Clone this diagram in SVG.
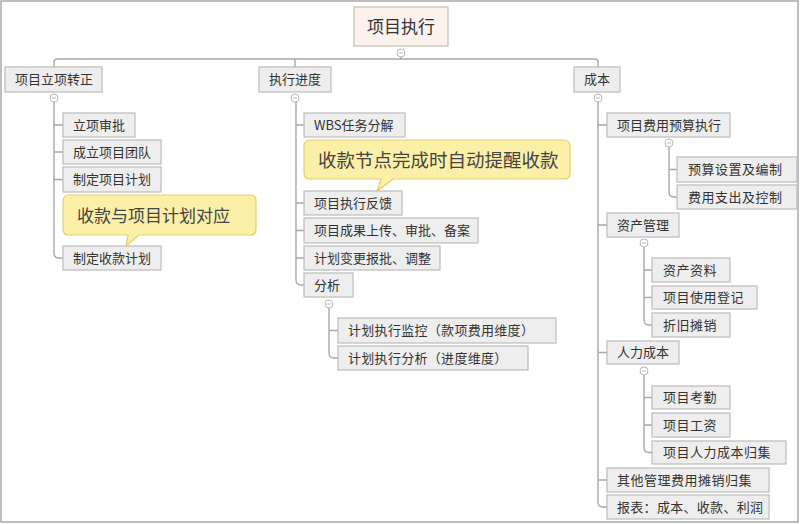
<svg xmlns="http://www.w3.org/2000/svg" width="800" height="524" viewBox="0 0 800 524">
<style>
.n rect{fill:#eeeeee;stroke:#bcbcbc;stroke-width:1.2}
.n text{font-family:"Noto Sans CJK SC","Liberation Sans",sans-serif;font-size:13px;fill:#333}
.c path,.c line{fill:none;stroke:#a8a8a8;stroke-width:1.4}
.t circle{fill:#fff;stroke:#b8b8b8;stroke-width:1}
.t line{stroke:#b8b8b8;stroke-width:1}
.co path{fill:#fcf0a8;stroke:#e3cd6e;stroke-width:1.2}
.co text{font-family:"Noto Sans CJK SC","Liberation Sans",sans-serif;fill:#444}
</style>
<rect x="1" y="1" width="797" height="521" fill="#fff" stroke="#a9a9a9" stroke-width="1.5"/>
<g class="c" id="connectors">
<path d="M401 57 V59 M54 67 V62 Q54 59 57 59 H595 Q598 59 598 62 V67 M295 59 V67"/>
<path d="M54 102 V253 Q54 258 59 258 H63 M54 125 H63 M54 152 H63 M54 179.5 H63"/>
<path d="M296 102 V280 Q296 285 301 285 H304 M296 125 H304 M296 203 H304 M296 230.5 H304 M296 258 H304"/>
<path d="M329 308 V353 Q329 358 334 358 H338 M329 330.5 H338"/>
<path d="M598 102 V502 Q598 507 603 507 H607 M598 125 H607 M598 225 H607 M598 352.5 H607 M598 480 H607"/>
<path d="M669 147 V192 Q669 197 674 197 H677 M669 169.5 H677"/>
<path d="M644 247 V320 Q644 325 649 325 H652 M644 270 H652 M644 297.5 H652"/>
<path d="M644 375 V447.5 Q644 452.5 649 452.5 H652 M644 397.5 H652 M644 425 H652"/>
</g>
<g id="root">
<rect x="354" y="7" width="94" height="39" fill="#fcf2ec" stroke="#c9bbb3" stroke-width="1.2"/>
<text x="401" y="33" text-anchor="middle" font-family="Noto Sans CJK SC, Liberation Sans, sans-serif" font-size="17" fill="#333">项目执行</text>
</g>
<g class="t" id="toggles">
<g><circle cx="401" cy="53" r="4"/><line x1="399" y1="53" x2="403" y2="53"/></g>
<g><circle cx="54" cy="98" r="4"/><line x1="52" y1="98" x2="56" y2="98"/></g>
<g><circle cx="295" cy="98" r="4"/><line x1="293" y1="98" x2="297" y2="98"/></g>
<g><circle cx="598" cy="98" r="4"/><line x1="596" y1="98" x2="600" y2="98"/></g>
<g><circle cx="329" cy="304" r="4"/><line x1="327" y1="304" x2="331" y2="304"/></g>
<g><circle cx="669" cy="143" r="4"/><line x1="667" y1="143" x2="671" y2="143"/></g>
<g><circle cx="644" cy="243" r="4"/><line x1="642" y1="243" x2="646" y2="243"/></g>
<g><circle cx="644" cy="371" r="4"/><line x1="642" y1="371" x2="646" y2="371"/></g>
</g>
<g class="n" id="n-lixiang"><rect x="5" y="67" width="97" height="25"/><text x="15" y="84">项目立项转正</text></g>
<g class="n" id="n-jindu"><rect x="259" y="67" width="72" height="25"/><text x="269" y="84">执行进度</text></g>
<g class="n" id="n-chengben"><rect x="574" y="67" width="46" height="25"/><text x="584" y="84">成本</text></g>

<g class="n" id="n-l1"><rect x="63" y="113" width="72" height="24"/><text x="73" y="130">立项审批</text></g>
<g class="n" id="n-l2"><rect x="63" y="140" width="98" height="24"/><text x="73" y="157">成立项目团队</text></g>
<g class="n" id="n-l3"><rect x="63" y="167" width="98" height="25"/><text x="73" y="184">制定项目计划</text></g>
<g class="n" id="n-l4"><rect x="63" y="246" width="98" height="24"/><text x="73" y="263">制定收款计划</text></g>

<g class="n" id="n-m1"><rect x="304" y="113" width="101" height="24"/><text x="314" y="130">WBS任务分解</text></g>
<g class="n" id="n-m2"><rect x="304" y="191" width="98" height="24"/><text x="314" y="208">项目执行反馈</text></g>
<g class="n" id="n-m3"><rect x="304" y="218" width="174" height="25"/><text x="314" y="235">项目成果上传、审批、备案</text></g>
<g class="n" id="n-m4"><rect x="304" y="246" width="136" height="24"/><text x="314" y="263">计划变更报批、调整</text></g>
<g class="n" id="n-m5"><rect x="304" y="273" width="49" height="24"/><text x="314" y="290">分析</text></g>
<g class="n" id="n-m51"><rect x="338" y="318" width="218" height="25"/><text x="348" y="335" letter-spacing="0.3">计划执行监控（款项费用维度）</text></g>
<g class="n" id="n-m52"><rect x="338" y="346" width="190" height="24"/><text x="348" y="363" letter-spacing="0.3">计划执行分析（进度维度）</text></g>

<g class="n" id="n-r1"><rect x="607" y="113" width="123" height="24"/><text x="617" y="130">项目费用预算执行</text></g>
<g class="n" id="n-r11"><rect x="677" y="157" width="120" height="25"/><text x="688" y="174" letter-spacing="0.5">预算设置及编制</text></g>
<g class="n" id="n-r12"><rect x="677" y="185" width="120" height="24"/><text x="688" y="202" letter-spacing="0.5">费用支出及控制</text></g>
<g class="n" id="n-r2"><rect x="607" y="213" width="72" height="24"/><text x="617" y="230">资产管理</text></g>
<g class="n" id="n-r21"><rect x="652" y="258" width="78" height="24"/><text x="663" y="275" letter-spacing="0.5">资产资料</text></g>
<g class="n" id="n-r22"><rect x="652" y="286" width="105" height="23"/><text x="663" y="302" letter-spacing="0.5">项目使用登记</text></g>
<g class="n" id="n-r23"><rect x="652" y="313" width="78" height="24"/><text x="663" y="330" letter-spacing="0.5">折旧摊销</text></g>
<g class="n" id="n-r3"><rect x="607" y="341" width="72" height="23"/><text x="617" y="357">人力成本</text></g>
<g class="n" id="n-r31"><rect x="652" y="386" width="78" height="23"/><text x="663" y="402" letter-spacing="0.5">项目考勤</text></g>
<g class="n" id="n-r32"><rect x="652" y="413" width="78" height="24"/><text x="663" y="430" letter-spacing="0.5">项目工资</text></g>
<g class="n" id="n-r33"><rect x="652" y="441" width="134" height="23"/><text x="663" y="457" letter-spacing="0.5">项目人力成本归集</text></g>
<g class="n" id="n-r4"><rect x="607" y="468" width="162" height="24"/><text x="617" y="485" letter-spacing="0.5">其他管理费用摊销归集</text></g>
<g class="n" id="n-r5"><rect x="607" y="495" width="162" height="24"/><text x="617" y="512" letter-spacing="0.3">报表：成本、收款、利润</text></g>

<g class="co" id="callout-1">
<path d="M69 195 H250 Q256 195 256 201 V229 Q256 235 250 235 H139 L126 246 L128 235 H69 Q63 235 63 229 V201 Q63 195 69 195 Z"/>
<text x="77" y="222" font-size="17">收款与项目计划对应</text>
</g>
<g class="co" id="callout-2">
<path d="M310 140 H564 Q570 140 570 146 V173 Q570 179 564 179 H393 L377 191 L381 179 H310 Q304 179 304 173 V146 Q304 140 310 140 Z"/>
<text x="318" y="166.5" font-size="18.5">收款节点完成时自动提醒收款</text>
</g>
</svg>
